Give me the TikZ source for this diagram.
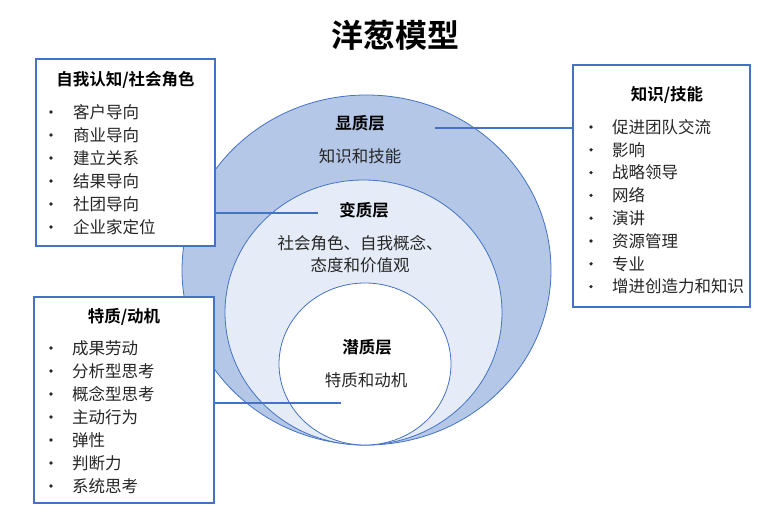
\documentclass[tikz,border=0pt]{standalone}
\usepackage{fontspec}
\setmainfont{Noto Sans CJK SC}[BoldFont={Noto Sans CJK SC Bold}]
\usetikzlibrary{positioning}

\definecolor{onionline}{HTML}{4472C4}
\definecolor{outerfill}{HTML}{B4C7E7}
\definecolor{midfill}{HTML}{E5ECF7}
\definecolor{itemgray}{HTML}{262626}

\tikzset{
  infobox/.style={draw=onionline, line width=1.2pt, fill=white, inner sep=0pt},
  link/.style={draw=onionline, line width=1.2pt},
  layer/.style={draw=onionline, line width=0.8pt},
  boxtitle/.style={font=\fontsize{16.5}{20}\selectfont\bfseries},
  layertitle/.style={font=\fontsize{16.5}{20}\selectfont\bfseries},
  layertext/.style={font=\fontsize{16.5}{22}\selectfont, text=itemgray, align=center},
  item/.style={font=\fontsize{16.5}{20}\selectfont, text=itemgray, anchor=west, inner sep=0pt},
  dot/.style={circle, fill=itemgray, inner sep=0pt, minimum size=3.6pt},
}

\begin{document}
\begin{tikzpicture}[x=1pt,y=-1pt]
    \useasboundingbox (0,0) rectangle (784,529);
    \fill[white] (0,0) rectangle (784,529);

    % Title
    \node[font=\fontsize{32}{36}\selectfont\bfseries] (title) at (395,35) {洋葱模型};

    % Onion layers
    \draw[layer, fill=outerfill] (366.5,270) ellipse [x radius=184.5pt, y radius=175pt];
    \draw[layer, fill=midfill] (363.5,312.5) ellipse [x radius=138.5pt, y radius=132.5pt];
    \draw[layer, fill=white] (365,364) ellipse [x radius=86pt, y radius=81pt];

    % Layer labels
    \node[layertitle] (outertitle) at (360,123) {显质层};
    \node[layertext] (outertext) at (360,156) {知识和技能};
    \node[layertitle] (midtitle) at (364,210) {变质层};
    \node[layertext] (midtext) at (360,254) {社会角色、自我概念、\\态度和价值观};
    \node[layertitle] (innertitle) at (367,347) {潜质层};
    \node[layertext] (innertext) at (366,380) {特质和动机};

    % Boxes
    \node[infobox, minimum width=179pt, minimum height=187pt] (selfbox) at (125.5,152.5) {};
    \node[infobox, minimum width=180pt, minimum height=206pt] (traitbox) at (124,400) {};
    \node[infobox, minimum width=177pt, minimum height=242pt] (skillbox) at (661.5,186) {};

    % Connectors
    \coordinate (selfend) at (318,213);
    \coordinate (traitend) at (341,403);
    \coordinate (skillend) at (435,128);
    \draw[link] (selfbox.east |- selfend) -- (selfend);
    \draw[link] (traitbox.east |- traitend) -- (traitend);
    \draw[link] (skillend) -- (skillend -| skillbox.west);

    % Self image / social role
    \node[boxtitle] (selftitle) at (125.5,80) {自我认知/社会角色};
    \foreach \txt [count=\i] in {客户导向,商业导向,建立关系,结果导向,社团导向,企业家定位} {
        \node[dot] (selfdot\i) at (51,{112+(\i-1)*23}) {};
        \node[item] (selfitem\i) at (73,{112+(\i-1)*23}) {\txt};
    }

    % Traits / motives
    \node[boxtitle] (traittitle) at (124,317) {特质/动机};
    \foreach \txt [count=\i] in {成果劳动,分析型思考,概念型思考,主动行为,弹性,判断力,系统思考} {
        \node[dot] (traitdot\i) at (51,{348+(\i-1)*23}) {};
        \node[item] (traititem\i) at (72,{348+(\i-1)*23}) {\txt};
    }

    % Knowledge / skills
    \node[boxtitle] (skilltitle) at (667,95) {知识/技能};
    \foreach \txt [count=\i] in {促进团队交流,影响,战略领导,网络,演讲,资源管理,专业,增进创造力和知识} {
        \node[dot] (skilldot\i) at (591,{127+(\i-1)*22.8}) {};
        \node[item] (skillitem\i) at (612,{127+(\i-1)*22.8}) {\txt};
    }
\end{tikzpicture}
\end{document}
